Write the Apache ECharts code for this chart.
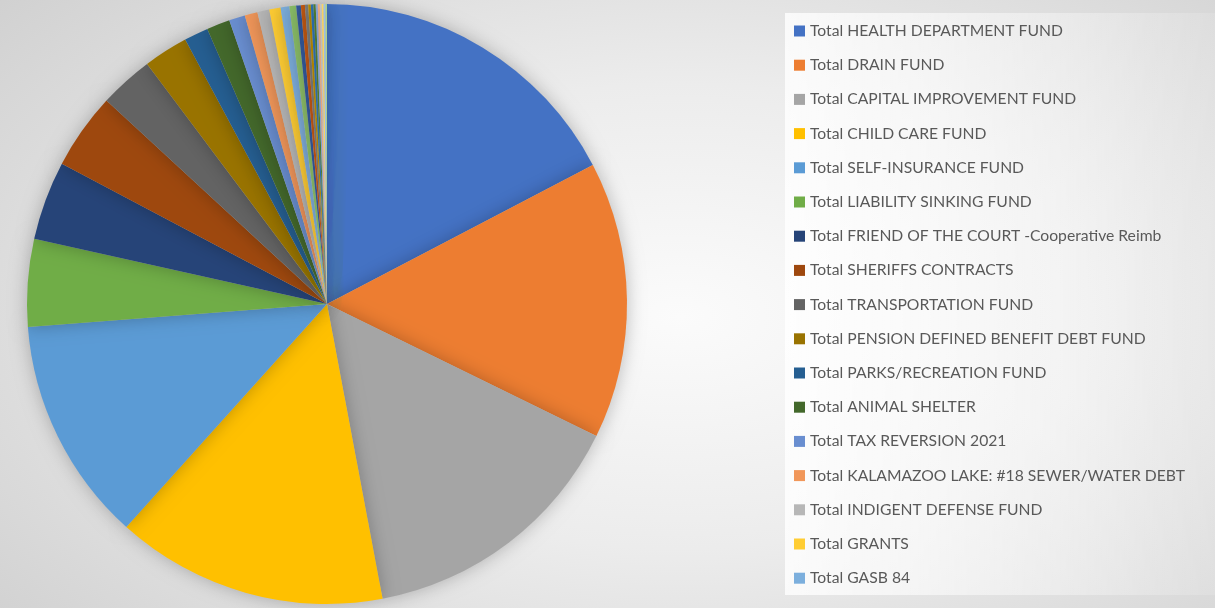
<!DOCTYPE html>
<html>
<head>
<meta charset="utf-8">
<script src="https://cdn.jsdelivr.net/npm/echarts@6/dist/echarts.min.js"></script>
<style>
  html, body { margin: 0; padding: 0; }
  body {
    width: 1215px; height: 608px;
    background: radial-gradient(ellipse 75% 85% at 56% 52%, #fbfbfb 0%, #ececec 45%, #cfcfcf 100%);
  }
  #chart { width: 1215px; height: 608px; }
</style>
</head>
<body>
<div id="chart"></div>
<script>
// fund names (the legend in the picture only lists the first 17)
const funds = [
  'Total HEALTH DEPARTMENT FUND',
  'Total DRAIN FUND',
  'Total CAPITAL IMPROVEMENT FUND',
  'Total CHILD CARE FUND',
  'Total SELF-INSURANCE FUND',
  'Total LIABILITY SINKING FUND',
  'Total FRIEND OF THE COURT -Cooperative Reimb',
  'Total SHERIFFS CONTRACTS',
  'Total TRANSPORTATION FUND',
  'Total PENSION DEFINED BENEFIT DEBT FUND',
  'Total PARKS/RECREATION FUND',
  'Total ANIMAL SHELTER',
  'Total TAX REVERSION 2021',
  'Total KALAMAZOO LAKE: #18 SEWER/WATER DEBT',
  'Total INDIGENT DEFENSE FUND',
  'Total GRANTS',
  'Total GASB 84',
  'Fund 18', 'Fund 19', 'Fund 20', 'Fund 21', 'Fund 22', 'Fund 23',
  'Fund 24', 'Fund 25', 'Fund 26', 'Fund 27', 'Fund 28', 'Fund 29', 'Fund 30'
];
const legendCount = 17;

// share of total, percent
const shares = [
  17.3, 14.9, 14.75, 14.6, 12.1, 4.7, 4.25, 4.1, 2.9, 2.4,
  1.3, 1.25, 0.86, 0.69, 0.64, 0.61, 0.47, 0.36,
  0.25, 0.22, 0.17, 0.14, 0.14, 0.12, 0.11, 0.11, 0.1, 0.1, 0.1, 0.08
];

// office theme cycle
const colors = [
  '#4472C4', '#ED7D31', '#A5A5A5', '#FFC000', '#5B9BD5', '#70AD47',
  '#264478', '#9E480E', '#636363', '#997300', '#255E91', '#43682B',
  '#698ED0', '#F1975A', '#B7B7B7', '#FFCD33', '#7CAFDD', '#8CC168',
  '#335AA1', '#C65911', '#7C7C7C', '#BF9000', '#2E75B6', '#548235',
  '#8FAADC', '#F4B183', '#C9C9C9', '#FFD966', '#9DC3E6', '#A9D18E'
];

const chart = echarts.init(document.getElementById('chart'), null, { renderer: 'canvas' });

chart.setOption({
  backgroundColor: 'transparent',
  animation: false,
  color: colors,
  graphic: [{
    type: 'rect',
    shape: { x: 785, y: 13, width: 440, height: 582 },
    style: {
      fill: new echarts.graphic.LinearGradient(0, 0, 1, 0, [
        { offset: 0, color: 'rgba(255,255,255,0.8)' },
        { offset: 1, color: 'rgba(255,255,255,0.12)' }
      ])
    },
    z: -1
  }],
  legend: {
    orient: 'vertical',
    left: 794,
    top: 23,
    padding: 0,
    itemWidth: 11,
    itemHeight: 11,
    itemGap: 18.2,
    icon: 'rect',
    selectedMode: false,
    data: funds.slice(0, legendCount),
    textStyle: {
      fontFamily: 'Lato',
      fontSize: 15.7,
      color: '#595959',
      padding: [0, 0, 0, 0]
    }
  },
  series: [{
    type: 'pie',
    center: [327, 304],
    radius: 300,
    startAngle: 90,
    clockwise: true,
    label: { show: false },
    labelLine: { show: false },
    silent: true,
    itemStyle: {
      borderWidth: 0,
      shadowBlur: 18,
      shadowColor: 'rgba(0,0,0,0.25)'
    },
    data: funds.map((name, i) => ({ name: name, value: shares[i] }))
  }]
});
</script>
</body>
</html>
